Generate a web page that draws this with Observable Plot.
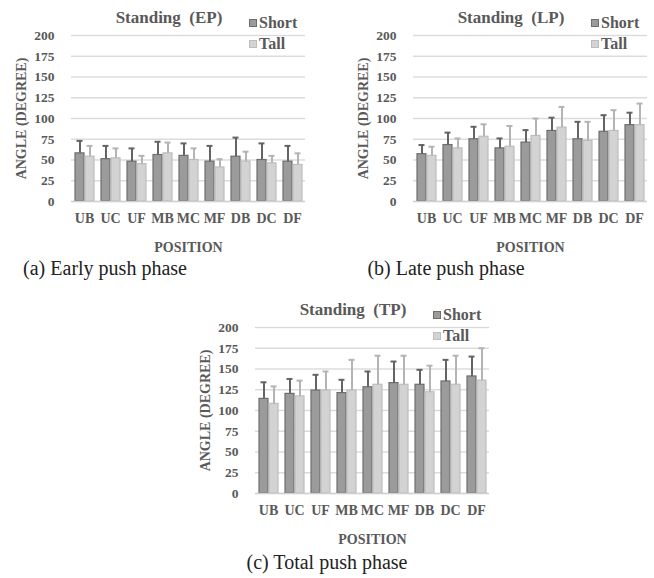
<!DOCTYPE html>
<html>
<head>
<meta charset="utf-8">
<script src="https://cdn.jsdelivr.net/npm/d3@7"></script>
<script src="https://cdn.jsdelivr.net/npm/@observablehq/plot@0.6"></script>
<style>
  html, body { margin: 0; padding: 0; background: #fff; }
  #root { position: relative; width: 654px; height: 578px; overflow: hidden; background: #fff; }
  .panel { position: absolute; }
  .panel svg { display: block; }
  .panel g[aria-label="y-axis label"] text, .panel g[aria-label="fx-axis label"] text { font-size: 14px; }
  .title { position: absolute; transform: translate(-50%, -50%); white-space: pre; font-family: "Liberation Serif", serif; font-weight: bold; font-size: 17px; color: #595959; }
  .leg { position: absolute; display: flex; align-items: center; font-family: "Liberation Serif", serif; font-weight: bold; font-size: 16px; color: #595959; transform: translateY(-50%); }
  .sw { width: 6px; height: 6px; margin-right: 2px; }
  .cap { position: absolute; transform: translate(-50%, -50%); white-space: nowrap; font-family: "Liberation Serif", serif; font-size: 20px; color: #222; }
</style>
</head>
<body>
<div id="root"></div>
<script>
// ---- data ----
const positions = ["UB", "UC", "UF", "MB", "MC", "MF", "DB", "DC", "DF"];
const groups = ["Short", "Tall"];
const yTicks = [0, 25, 50, 75, 100, 125, 150, 175, 200];

// (a) Early push phase (EP)
const epShort   = [58, 51, 48, 56, 55, 48, 54, 50, 48];
const epShortSD = [15, 16, 16, 16, 15, 19, 23, 20, 19];
const epTall    = [54, 52, 45, 58, 50, 41, 48, 46, 44];
const epTallSD  = [13, 12, 10, 13, 14, 10, 12, 9, 14];

// (b) Late push phase (LP)
const lpShort   = [57, 68, 75, 64, 71, 85, 75, 84, 92];
const lpShortSD = [11, 15, 15, 12, 15, 16, 21, 20, 15];
const lpTall    = [55, 64, 78, 66, 79, 89, 73, 85, 92];
const lpTallSD  = [11, 12, 15, 25, 21, 25, 23, 25, 26];

// (c) Total push phase (TP)
const tpShort   = [114, 120, 124, 121, 128, 133, 131, 135, 141];
const tpShortSD = [20, 18, 19, 16, 19, 26, 18, 26, 24];
const tpTall    = [108, 117, 124, 124, 131, 131, 122, 131, 136];
const tpTallSD  = [21, 19, 23, 37, 35, 35, 32, 35, 39];

const titles = ["Standing  (EP)", "Standing  (LP)", "Standing  (TP)"];
const captions = ["(a) Early push phase", "(b) Late push phase", "(c) Total push phase"];

// ---- styles ----
const fillColors = ["#9b9b9b", "#d3d3d3"];
const edgeColors = ["#6e6e6e", "#bdbdbd"];
const errColors = ["#646464", "#b4b4b4"];

function makeChart(short, shortSD, tall, tallSD, width) {
  const rows = positions.flatMap((p, i) => [
    {pos: p, grp: "Short", v: short[i], sd: shortSD[i]},
    {pos: p, grp: "Tall", v: tall[i], sd: tallSD[i]}
  ]);
  const edge = d => edgeColors[groups.indexOf(d.grp)];
  const err = d => errColors[groups.indexOf(d.grp)];
  return Plot.plot({
    width, height: 260,
    marginLeft: 68, marginRight: width - 68 - 239, marginTop: 35, marginBottom: 59,
    style: {fontFamily: "'Liberation Serif', serif", fontWeight: "bold", fontSize: "13.5px", color: "#595959", background: "white", overflow: "visible"},
    fx: {domain: positions, padding: 0, axis: null, label: null},
    x: {domain: groups, paddingInner: 0.1, paddingOuter: 0.32, axis: null},
    y: {domain: [0, 200]},
    color: {domain: groups, range: fillColors},
    marks: [
      Plot.gridY(yTicks, {stroke: "#dadada", strokeOpacity: 1, strokeWidth: 1.4}),
      Plot.axisY(yTicks, {tickSize: 0, tickPadding: 17, label: "ANGLE (DEGREE)", labelAnchor: "center", labelOffset: 55, labelArrow: "none", fontSize: 13.5}),
      Plot.axisFx({anchor: "bottom", tickSize: 0, tickPadding: 12, label: "POSITION", labelAnchor: "center", labelOffset: 50, labelArrow: "none", fontSize: 14}),
      Plot.barY(rows, {fx: "pos", x: "grp", y: "v", fill: "grp", stroke: edge, strokeWidth: 1.2}),
      Plot.ruleX(rows, {fx: "pos", x: "grp", y1: "v", y2: d => d.v + d.sd, stroke: err, strokeWidth: 2}),
      Plot.tickY(rows, {fx: "pos", x: "grp", y: d => d.v + d.sd, stroke: err, strokeWidth: 2, insetLeft: 1.5, insetRight: 1.5}),
      Plot.ruleY([0], {stroke: "#d0d0d0", strokeWidth: 1.4})
    ]
  });
}

const root = document.getElementById("root");
const panels = [
  {data: [epShort, epShortSD, epTall, epTallSD], left: 0, top: 0, width: 320, title: titles[0]},
  {data: [lpShort, lpShortSD, lpTall, lpTallSD], left: 342, top: 0, width: 312, title: titles[1]},
  {data: [tpShort, tpShortSD, tpTall, tpTallSD], left: 184, top: 292, width: 320, title: titles[2]}
];
panels.forEach(p => {
  const div = document.createElement("div");
  div.className = "panel";
  div.style.left = p.left + "px";
  div.style.top = p.top + "px";
  div.appendChild(makeChart(...p.data, p.width));
  const t = document.createElement("div");
  t.className = "title";
  t.textContent = p.title;
  t.style.left = "169px"; t.style.top = "18px";
  div.appendChild(t);
  groups.forEach((g, i) => {
    const l = document.createElement("div");
    l.className = "leg";
    l.style.left = "249px"; l.style.top = (23 + i * 21) + "px";
    const sw = document.createElement("div");
    sw.className = "sw";
    sw.style.background = fillColors[i];
    sw.style.border = "1px solid " + edgeColors[i];
    l.appendChild(sw);
    l.appendChild(document.createTextNode(g));
    div.appendChild(l);
  });
  root.appendChild(div);
});
const capPos = [[105, 268], [446, 268], [327, 562]];
captions.forEach((c, i) => {
  const d = document.createElement("div");
  d.className = "cap";
  d.textContent = c;
  d.style.left = capPos[i][0] + "px"; d.style.top = capPos[i][1] + "px";
  root.appendChild(d);
});
</script>
</body>
</html>
